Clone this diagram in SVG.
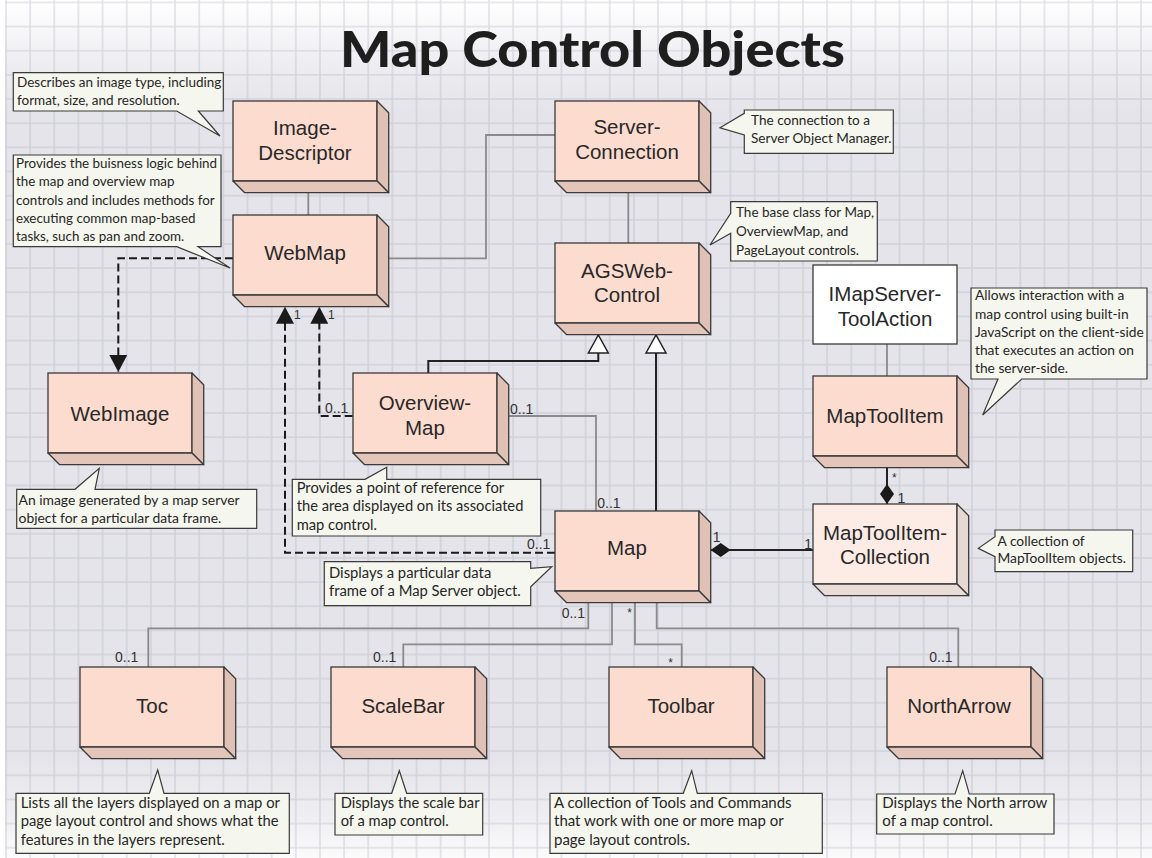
<svg xmlns="http://www.w3.org/2000/svg" xmlns:xlink="http://www.w3.org/1999/xlink" width="1152" height="858" viewBox="0 0 1152 858">
  <style>
    .lbl { font-family: "Liberation Sans", Arial, sans-serif; font-size: 20.5px; fill: #282828; text-anchor: middle; }
    .note { fill: #f5f6ee; stroke: #3a3a3a; stroke-width: 1.2; }
    .ntxt { font-family: Lato, "Liberation Sans", sans-serif; fill: #262626; }
    .mult { font-family: "Liberation Sans", Arial, sans-serif; font-size: 14px; fill: #333; }
    .mult-s { font-family: "Liberation Sans", Arial, sans-serif; font-size: 12px; fill: #333; }
    .assoc { fill: none; stroke: #8a8a8a; stroke-width: 1.8; }
    .solid { fill: none; stroke: #222; stroke-width: 2; }
    .dash { fill: none; stroke: #1a1a1a; stroke-width: 2; stroke-dasharray: 8 4; }
    .title { font-family: Lato, "Liberation Sans", sans-serif; font-weight: 900; font-size: 50px; fill: #1e1e1e; }
  </style>
  <defs>
    <linearGradient id="bgGrad" x1="0" y1="0" x2="0" y2="1">
      <stop offset="0" stop-color="#ffffff"/>
      <stop offset="0.03" stop-color="#f8f8fa"/>
      <stop offset="0.09" stop-color="#eaeaef"/>
      <stop offset="0.13" stop-color="#e4e4ea"/>
      <stop offset="0.88" stop-color="#e4e4ea"/>
      <stop offset="0.95" stop-color="#eeeef2"/>
      <stop offset="1" stop-color="#fbfbfc"/>
    </linearGradient>
    <pattern id="grid" patternUnits="userSpaceOnUse" x="5" y="1.5" width="24.15" height="24.15">
      <path d="M1,0 V24.15 M0,1 H24.15" stroke="#aeb0bc" stroke-opacity="0.38" stroke-width="1.5" fill="none"/>
    </pattern>
    <!-- 3D class box, 144 x 80 front face -->
    <g id="box">
      <rect x="0" y="0" width="144" height="80" fill="#fcdccf" stroke="#3a3a3a" stroke-width="1.3"/>
      <path d="M144,0 L155.7,11.7 V91.7 L144,80 Z" fill="#dfc1b5" stroke="#3a3a3a" stroke-width="1.3" stroke-linejoin="round"/>
      <path d="M0,80 H144 L155.7,91.7 H11.7 Z" fill="#e3c5b9" stroke="#3a3a3a" stroke-width="1.3" stroke-linejoin="round"/>
    </g>
    <g id="boxLight">
      <rect x="0" y="0" width="144" height="80" fill="#fdece5" stroke="#3a3a3a" stroke-width="1.3"/>
      <path d="M144,0 L155.7,11.7 V91.7 L144,80 Z" fill="#e6d8d2" stroke="#3a3a3a" stroke-width="1.3" stroke-linejoin="round"/>
      <path d="M0,80 H144 L155.7,91.7 H11.7 Z" fill="#eaddd7" stroke="#3a3a3a" stroke-width="1.3" stroke-linejoin="round"/>
    </g>
    <marker id="arrowFilled" markerUnits="userSpaceOnUse" markerWidth="18" markerHeight="18" viewBox="0 0 17 18" refX="17" refY="9" orient="auto">
      <path d="M0,0 L17,9 L0,18 Z" fill="#1a1a1a"/>
    </marker>
    <marker id="inherit" markerUnits="userSpaceOnUse" markerWidth="18" markerHeight="20" viewBox="0 0 18 20" refX="18" refY="10" orient="auto" overflow="visible">
      <path d="M0,0 L18,10 L0,20 Z" fill="#ffffff" stroke="#222" stroke-width="1.5" stroke-linejoin="miter"/>
    </marker>
    <marker id="diamond" markerUnits="userSpaceOnUse" markerWidth="20" markerHeight="14" viewBox="0 0 20 14" refX="0" refY="7" orient="auto">
      <path d="M0,7 L10,0 L20,7 L10,14 Z" fill="#1a1a1a"/>
    </marker>
  </defs>

  <!-- background -->
  <rect x="0" y="0" width="1152" height="858" fill="url(#bgGrad)"/>
  <rect x="0" y="0" width="1152" height="858" fill="url(#grid)"/>
  <rect x="0" y="0" width="5" height="858" fill="#ffffff"/>

  <text class="title" x="340" y="67" textLength="505" lengthAdjust="spacingAndGlyphs">Map Control Objects</text>

  <!-- connectors -->
  <g id="connectors">
    <path class="assoc" d="M308.3,192 V215"/>
    <path class="assoc" d="M388,258.3 H486 V135 H555"/>
    <path class="assoc" d="M628.3,192 V243"/>
    <path class="assoc" d="M887,344 V376"/>
    <path class="assoc" d="M508.3,416 H596 V511"/>
    <path class="assoc" d="M588.3,602.3 V628.3 H148.3 V667"/>
    <path class="assoc" d="M612,602.3 V644.3 H403.3 V667"/>
    <path class="assoc" d="M635,602.3 V644.3 H681.7 V667"/>
    <path class="assoc" d="M656.7,602.3 V628.3 H958.3 V667"/>

    <path class="dash" d="M233,258.3 H118.3 V372" marker-end="url(#arrowFilled)"/>
    <path class="dash" d="M352.7,416 H319.3 V306.7" marker-end="url(#arrowFilled)"/>
    <path class="dash" d="M555,552.7 H285 V306.7" marker-end="url(#arrowFilled)"/>

    <path class="solid" d="M428.3,373 V361 H598.3 V335" marker-end="url(#inherit)"/>
    <path class="solid" d="M656,511 V335" marker-end="url(#inherit)"/>

    <path class="solid" d="M710.7,550 H813" marker-start="url(#diamond)"/>
    <path class="solid" d="M887,504 V467.3" marker-start="url(#diamond)"/>

    <text class="mult-s" x="294" y="319">1</text>
    <text class="mult-s" x="328" y="319">1</text>
    <text class="mult" x="325" y="413">0..1</text>
    <text class="mult" x="527" y="549.3">0..1</text>
    <text class="mult" x="510" y="414">0..1</text>
    <text class="mult" x="597.3" y="508.3">0..1</text>
    <text class="mult" x="712.7" y="541.7">1</text>
    <text class="mult" x="804.3" y="549.3">1</text>
    <text class="mult-s" x="892" y="482">*</text>
    <text class="mult" x="897.5" y="503.3">1</text>
    <text class="mult" x="561.7" y="618.3">0..1</text>
    <text class="mult-s" x="627.3" y="617">*</text>
    <text class="mult" x="115" y="661.7">0..1</text>
    <text class="mult" x="373" y="661.7">0..1</text>
    <text class="mult-s" x="668.3" y="667">*</text>
    <text class="mult" x="929.3" y="662">0..1</text>
  </g>

  <!-- nodes -->
  <g id="ImageDescriptor">
    <use xlink:href="#box" x="233" y="101"/>
    <text class="lbl" x="305" y="135.4">Image-</text>
    <text class="lbl" x="305" y="160.4">Descriptor</text>
  </g>
  <g id="ServerConnection">
    <use xlink:href="#box" x="555" y="101"/>
    <text class="lbl" x="627" y="134">Server-</text>
    <text class="lbl" x="627" y="158.7">Connection</text>
  </g>
  <g id="WebMap">
    <use xlink:href="#box" x="233" y="215"/>
    <text class="lbl" x="305" y="259.7">WebMap</text>
  </g>
  <g id="AGSWebControl">
    <use xlink:href="#box" x="555" y="243"/>
    <text class="lbl" x="627" y="278">AGSWeb-</text>
    <text class="lbl" x="627" y="302">Control</text>
  </g>
  <g id="IMapServerToolAction">
    <rect x="813" y="265" width="144" height="79" fill="#ffffff" stroke="#3a3a3a" stroke-width="1.3"/>
    <text class="lbl" x="885" y="301.4">IMapServer-</text>
    <text class="lbl" x="885" y="326.4">ToolAction</text>
  </g>
  <g id="MapToolItem">
    <use xlink:href="#box" x="813" y="376"/>
    <text class="lbl" x="885" y="423">MapToolItem</text>
  </g>
  <g id="MapToolItemCollection">
    <use xlink:href="#boxLight" x="813" y="504"/>
    <text class="lbl" x="885" y="539.7">MapToolItem-</text>
    <text class="lbl" x="885" y="564">Collection</text>
  </g>
  <g id="WebImage">
    <use xlink:href="#box" x="48" y="373"/>
    <text class="lbl" x="120" y="421.4">WebImage</text>
  </g>
  <g id="OverviewMap">
    <use xlink:href="#box" x="353" y="373"/>
    <text class="lbl" x="425" y="409.7">Overview-</text>
    <text class="lbl" x="425" y="434.7">Map</text>
  </g>
  <g id="Map">
    <use xlink:href="#box" x="555" y="511"/>
    <text class="lbl" x="627" y="554.7">Map</text>
  </g>
  <g id="Toc">
    <use xlink:href="#box" x="80" y="667"/>
    <text class="lbl" x="152" y="713">Toc</text>
  </g>
  <g id="ScaleBar">
    <use xlink:href="#box" x="331" y="667"/>
    <text class="lbl" x="403" y="713">ScaleBar</text>
  </g>
  <g id="Toolbar">
    <use xlink:href="#box" x="609" y="667"/>
    <text class="lbl" x="681" y="713">Toolbar</text>
  </g>
  <g id="NorthArrow">
    <use xlink:href="#box" x="887" y="667"/>
    <text class="lbl" x="959" y="713">NorthArrow</text>
  </g>

  <!-- notes -->
  <g id="note-ImageDescriptor" style="font-size:13.5px">
    <path class="note" d="M13.3,72.7 H223.3 V111 H198.3 L220,136 L176.7,111 H13.3 Z"/>
    <text class="ntxt" x="17" y="87">Describes an image type, including</text>
    <text class="ntxt" x="17" y="104.7">format, size, and resolution.</text>
  </g>
  <g id="note-WebMap" style="font-size:13.4px">
    <path class="note" d="M13.3,155 H221 V246.7 H198 L230,268 L176.7,246.7 H13.3 Z"/>
    <text class="ntxt" x="16" y="168">Provides the buisness logic behind</text>
    <text class="ntxt" x="16" y="186.3">the map and overview map</text>
    <text class="ntxt" x="16" y="204.6">controls and includes methods for</text>
    <text class="ntxt" x="16" y="222.9">executing common map-based</text>
    <text class="ntxt" x="16" y="241.2">tasks, such as pan and zoom.</text>
  </g>
  <g id="note-ServerConnection" style="font-size:13.6px">
    <path class="note" d="M744.3,110 H893.3 V153.3 H744.3 V135 L720,127.7 L744.3,113.3 Z"/>
    <text class="ntxt" x="751" y="124.7">The connection to a</text>
    <text class="ntxt" x="751" y="143">Server Object Manager.</text>
  </g>
  <g id="note-AGSWebControl" style="font-size:13.5px">
    <path class="note" d="M730.7,201.7 H877.3 V261 H730.7 V233.3 L710,245 L730.7,213.3 Z"/>
    <text class="ntxt" x="736" y="217">The base class for Map,</text>
    <text class="ntxt" x="736" y="236.4">OverviewMap, and</text>
    <text class="ntxt" x="736" y="254.7">PageLayout controls.</text>
  </g>
  <g id="note-MapToolItem" style="font-size:13.75px">
    <path class="note" d="M971,288 H1147 V379 H1021.7 L982.7,415 L998,379 H971 Z"/>
    <text class="ntxt" x="975" y="300.4">Allows interaction with a</text>
    <text class="ntxt" x="975" y="318.6">map control using built-in</text>
    <text class="ntxt" x="975" y="336.8">JavaScript on the client-side</text>
    <text class="ntxt" x="975" y="355">that executes an action on</text>
    <text class="ntxt" x="975" y="373.2">the server-side.</text>
  </g>
  <g id="note-MapToolItemCollection" style="font-size:13.8px">
    <path class="note" d="M995,530 H1132.7 V571.7 H995 V556.7 L978.3,548.3 L995,536.7 Z"/>
    <text class="ntxt" x="997.5" y="545.7">A collection of</text>
    <text class="ntxt" x="997.5" y="563">MapToolItem objects.</text>
  </g>
  <g id="note-WebImage" style="font-size:13.9px">
    <path class="note" d="M16.7,489.3 H75 L99.3,468.3 L95,489.3 H256.7 V528.3 H16.7 Z"/>
    <text class="ntxt" x="18.5" y="504.7">An image generated by a map server</text>
    <text class="ntxt" x="18.5" y="523">object for a particular data frame.</text>
  </g>
  <g id="note-OverviewMap" style="font-size:14.7px">
    <path class="note" d="M292.3,479.3 H365 L386.7,467.3 V479.3 H540.7 V536 H292.3 Z"/>
    <text class="ntxt" x="296.7" y="493">Provides a point of reference for</text>
    <text class="ntxt" x="296.7" y="511">the area displayed on its associated</text>
    <text class="ntxt" x="296.7" y="529.5">map control.</text>
  </g>
  <g id="note-Map" style="font-size:14.8px">
    <path class="note" d="M324.3,561.7 H530.7 V568.3 L551.7,566.7 L530.7,586.7 V605.7 H324.3 Z"/>
    <text class="ntxt" x="329" y="578">Displays a particular data</text>
    <text class="ntxt" x="329" y="596.4">frame of a Map Server object.</text>
  </g>
  <g id="note-Toc" style="font-size:14.8px">
    <path class="note" d="M16,793.3 H149.3 L157.7,770 L164,793.3 H289.3 V853.3 H16 Z"/>
    <text class="ntxt" x="20.7" y="808">Lists all the layers displayed on a map or</text>
    <text class="ntxt" x="20.7" y="826.4">page layout control and shows what the</text>
    <text class="ntxt" x="20.7" y="844.7">features in the layers represent.</text>
  </g>
  <g id="note-ScaleBar" style="font-size:14.7px">
    <path class="note" d="M335,793.3 H391.7 L399.3,770.7 L406.7,793.3 H482.7 V835 H335 Z"/>
    <text class="ntxt" x="340.7" y="808">Displays the scale bar</text>
    <text class="ntxt" x="340.7" y="826.4">of a map control.</text>
  </g>
  <g id="note-Toolbar" style="font-size:15px">
    <path class="note" d="M550,793.3 H683.3 L691.7,770.7 L697.3,793.3 H822.3 V853.3 H550 Z"/>
    <text class="ntxt" x="554" y="807.5">A collection of Tools and Commands</text>
    <text class="ntxt" x="554" y="826">that work with one or more map or</text>
    <text class="ntxt" x="554" y="844.5">page layout controls.</text>
  </g>
  <g id="note-NorthArrow" style="font-size:15px">
    <path class="note" d="M876.7,794 H955 L962.7,770.7 L969.3,794 H1054 V834 H876.7 Z"/>
    <text class="ntxt" x="882.3" y="808">Displays the North arrow</text>
    <text class="ntxt" x="882.3" y="826.4">of a map control.</text>
  </g>
</svg>
